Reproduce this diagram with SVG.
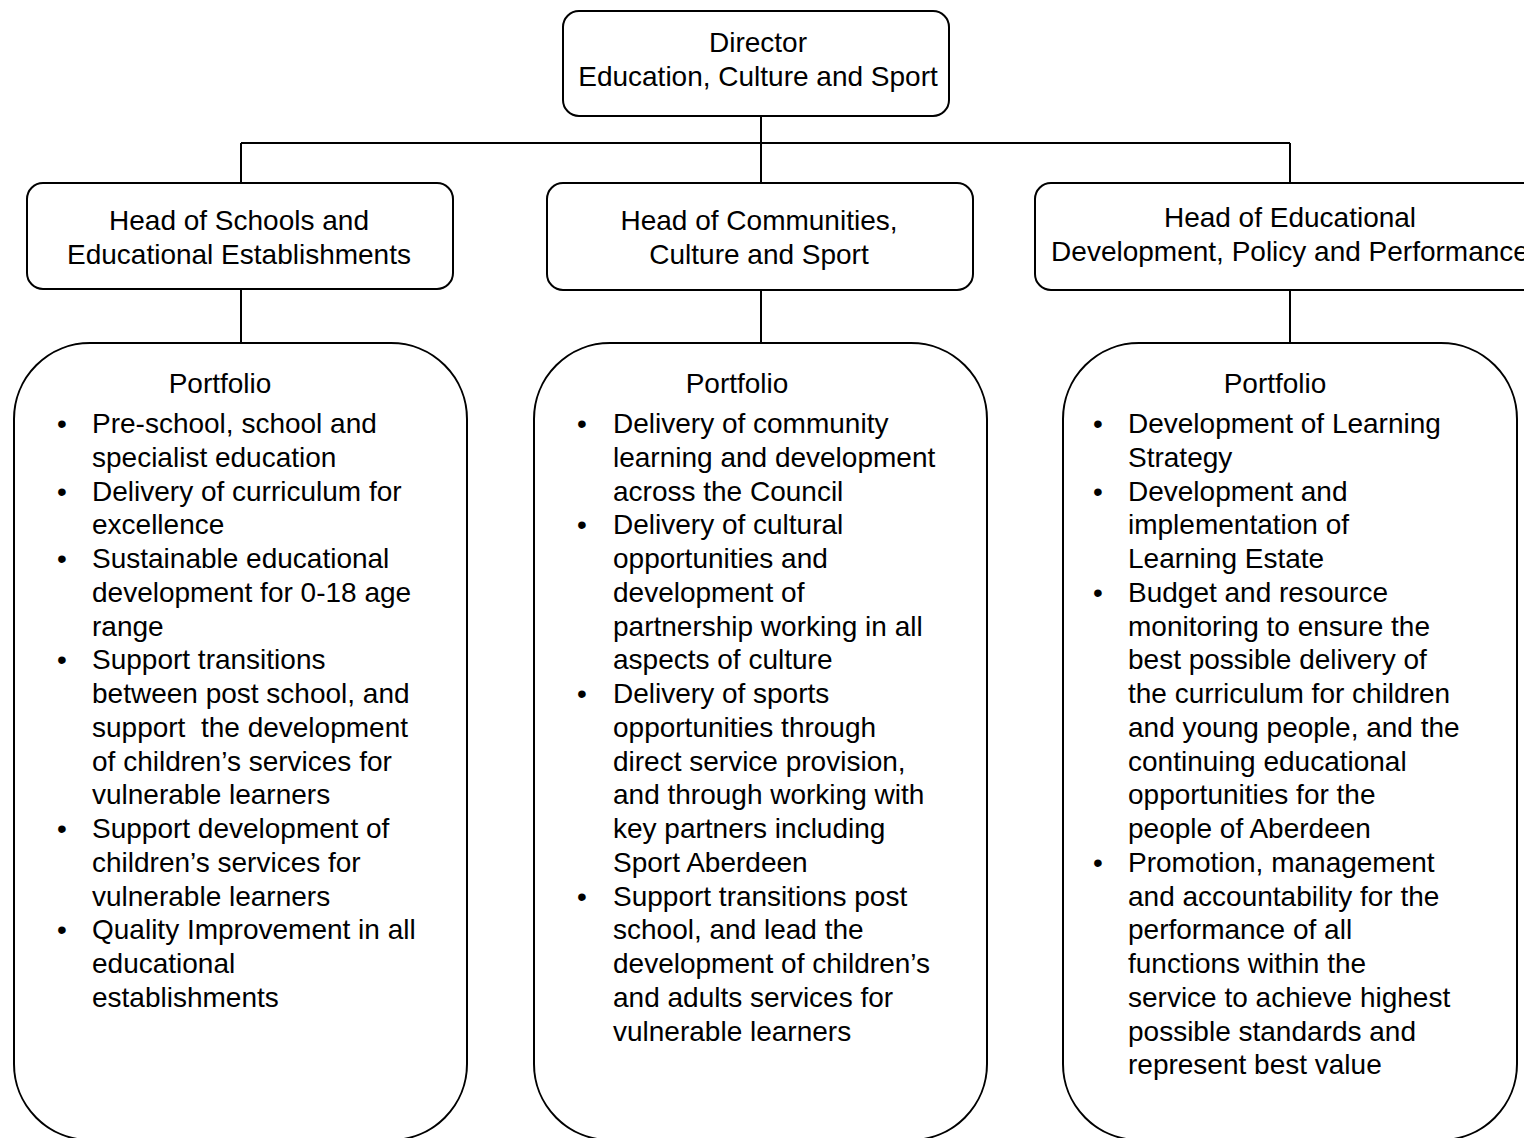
<svg xmlns="http://www.w3.org/2000/svg" width="1524" height="1138" viewBox="0 0 1524 1138">
<style>
.box{fill:#fff;stroke:#000;stroke-width:2}
.pbox{fill:#fff;stroke:#000;stroke-width:2}
.conn line{stroke:#000;stroke-width:2}
text{font-family:"Liberation Sans",Arial,sans-serif;font-size:28px;fill:#000;white-space:pre}
.c{text-anchor:middle}
</style>
<rect width="1524" height="1138" fill="#fff"/>
<g id="connectors" class="conn">
<line x1="761" y1="116" x2="761" y2="183"/>
<line x1="241" y1="143" x2="1290" y2="143"/>
<line x1="241" y1="143" x2="241" y2="183"/>
<line x1="1290" y1="143" x2="1290" y2="183"/>
<line x1="241" y1="289" x2="241" y2="343"/>
<line x1="761" y1="290" x2="761" y2="343"/>
<line x1="1290" y1="290" x2="1290" y2="343"/>
</g>
<g id="director">
<rect class="box" x="563" y="11" width="386" height="105" rx="16"/>
<text class="c" x="758" y="52">Director</text>
<text class="c" x="758" y="86">Education, Culture and Sport</text>
</g>
<g id="head-schools">
<rect class="box" x="27" y="183" width="426" height="106" rx="16"/>
<text class="c" x="239" y="230">Head of Schools and</text>
<text class="c" x="239" y="264">Educational Establishments</text>
</g>
<g id="head-communities">
<rect class="box" x="547" y="183" width="426" height="107" rx="16"/>
<text class="c" x="759" y="230">Head of Communities,</text>
<text class="c" x="759" y="264">Culture and Sport</text>
</g>
<g id="head-educational">
<rect class="box" x="1035" y="183" width="510" height="107" rx="16"/>
<text class="c" x="1290" y="227">Head of Educational</text>
<text class="c" x="1290" y="261">Development, Policy and Performance</text>
</g>
<g id="portfolio-schools">
<rect class="pbox" x="14" y="343" width="453" height="797" rx="76" ry="76"/>
<text class="c" x="220" y="393">Portfolio</text>
<text x="57" y="433">•</text><text x="92" y="433">Pre-school, school and</text>
<text x="92" y="466.75">specialist education</text>
<text x="57" y="500.5">•</text><text x="92" y="500.5">Delivery of curriculum for</text>
<text x="92" y="534.25">excellence</text>
<text x="57" y="568">•</text><text x="92" y="568">Sustainable educational</text>
<text x="92" y="601.75">development for 0-18 age</text>
<text x="92" y="635.5">range</text>
<text x="57" y="669.25">•</text><text x="92" y="669.25">Support transitions</text>
<text x="92" y="703">between post school, and</text>
<text x="92" y="736.75">support  the development</text>
<text x="92" y="770.5">of children’s services for</text>
<text x="92" y="804.25">vulnerable learners</text>
<text x="57" y="838">•</text><text x="92" y="838">Support development of</text>
<text x="92" y="871.75">children’s services for</text>
<text x="92" y="905.5">vulnerable learners</text>
<text x="57" y="939.25">•</text><text x="92" y="939.25">Quality Improvement in all</text>
<text x="92" y="973">educational</text>
<text x="92" y="1006.75">establishments</text>
</g>
<g id="portfolio-communities">
<rect class="pbox" x="534" y="343" width="453" height="797" rx="76" ry="76"/>
<text class="c" x="737" y="393">Portfolio</text>
<text x="577" y="433">•</text><text x="613" y="433">Delivery of community</text>
<text x="613" y="466.75">learning and development</text>
<text x="613" y="500.5">across the Council</text>
<text x="577" y="534.25">•</text><text x="613" y="534.25">Delivery of cultural</text>
<text x="613" y="568">opportunities and</text>
<text x="613" y="601.75">development of</text>
<text x="613" y="635.5">partnership working in all</text>
<text x="613" y="669.25">aspects of culture</text>
<text x="577" y="703">•</text><text x="613" y="703">Delivery of sports</text>
<text x="613" y="736.75">opportunities through</text>
<text x="613" y="770.5">direct service provision,</text>
<text x="613" y="804.25">and through working with</text>
<text x="613" y="838">key partners including</text>
<text x="613" y="871.75">Sport Aberdeen</text>
<text x="577" y="905.5">•</text><text x="613" y="905.5">Support transitions post</text>
<text x="613" y="939.25">school, and lead the</text>
<text x="613" y="973">development of children’s</text>
<text x="613" y="1006.75">and adults services for</text>
<text x="613" y="1040.5">vulnerable learners</text>
</g>
<g id="portfolio-educational">
<rect class="pbox" x="1063" y="343" width="454" height="797" rx="76" ry="76"/>
<text class="c" x="1275" y="393">Portfolio</text>
<text x="1093" y="433">•</text><text x="1128" y="433">Development of Learning</text>
<text x="1128" y="466.75">Strategy</text>
<text x="1093" y="500.5">•</text><text x="1128" y="500.5">Development and</text>
<text x="1128" y="534.25">implementation of</text>
<text x="1128" y="568">Learning Estate</text>
<text x="1093" y="601.75">•</text><text x="1128" y="601.75">Budget and resource</text>
<text x="1128" y="635.5">monitoring to ensure the</text>
<text x="1128" y="669.25">best possible delivery of</text>
<text x="1128" y="703">the curriculum for children</text>
<text x="1128" y="736.75">and young people, and the</text>
<text x="1128" y="770.5">continuing educational</text>
<text x="1128" y="804.25">opportunities for the</text>
<text x="1128" y="838">people of Aberdeen</text>
<text x="1093" y="871.75">•</text><text x="1128" y="871.75">Promotion, management</text>
<text x="1128" y="905.5">and accountability for the</text>
<text x="1128" y="939.25">performance of all</text>
<text x="1128" y="973">functions within the</text>
<text x="1128" y="1006.75">service to achieve highest</text>
<text x="1128" y="1040.5">possible standards and</text>
<text x="1128" y="1074.25">represent best value</text>
</g>
</svg>
